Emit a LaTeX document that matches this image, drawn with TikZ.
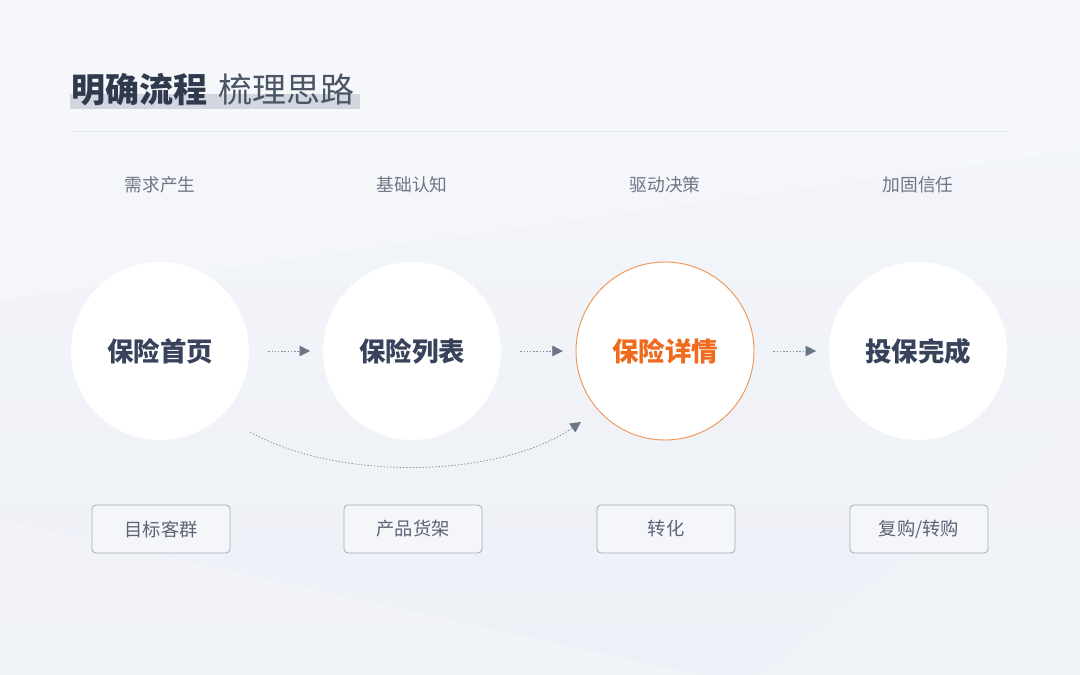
\documentclass[tikz,border=0pt]{standalone}
\usepackage{fontspec}
\setmainfont{Noto Sans CJK SC}
\usetikzlibrary{arrows.meta}
\usetikzlibrary{calc}

\definecolor{bgbase}{HTML}{EDF0F6}
\definecolor{bgtop}{HTML}{F4F6FA}
\definecolor{titledark}{HTML}{2F3A4D}
\definecolor{titlelight}{HTML}{4A5566}
\definecolor{titlebar}{HTML}{D2D7DF}
\definecolor{rulegray}{HTML}{E1E5ED}
\definecolor{stagegray}{HTML}{6E7583}
\definecolor{pagedark}{HTML}{38425A}
\definecolor{hotorange}{HTML}{EF6A1C}
\definecolor{ringorange}{HTML}{EE9A5E}
\definecolor{arrowgray}{HTML}{6A7588}
\definecolor{boxline}{HTML}{A4ACB9}
\definecolor{boxtext}{HTML}{5A6476}

\tikzset{
  stage/.style={font=\fontsize{12.6pt}{14pt}\selectfont, text=stagegray},
  pagecircle/.style={circle, fill=white, minimum size=126.6pt, inner sep=0pt,
    font=\fontsize{18.8pt}{21pt}\selectfont\bfseries, text=pagedark},
  hotcircle/.style={pagecircle, draw=ringorange, line width=0.7pt, text=hotorange},
  rolebox/.style={draw=boxline, line width=0.6pt, rounded corners=2.8pt, fill=bgbase!60!white,
    minimum width=98.1pt, minimum height=34.1pt, inner sep=0pt,
    font=\fontsize{13pt}{15pt}\selectfont, text=boxtext},
  flowarrow/.style={draw=arrowgray!80, line width=0.55pt, dash pattern=on 1pt off 1.3pt,
    -{Triangle[length=7.5pt, width=7.5pt, color=arrowgray, fill=arrowgray]}},
}

\begin{document}
\begin{tikzpicture}[x=0.025cm, y=-0.025cm]
  % Background
  \useasboundingbox (0,0) rectangle (1080,675);
  \shade[top color=bgtop, bottom color=bgbase] (0,0) rectangle (1080,675);
  \fill[white, opacity=0.25] (0,300) -- (1080,150) -- (1080,0) -- (0,0) -- cycle;
  \fill[white, opacity=0.2] (0,675) -- (0,520) -- (700,675) -- cycle;
  \fill[white, opacity=0.15] (1080,420) -- (760,675) -- (1080,675) -- cycle;

  % Title
  \fill[titlebar] (70,94) rectangle (360,109);
  \node[anchor=west, inner sep=0pt, font=\fontsize{24.2pt}{26pt}\selectfont\bfseries,
    text=titledark] (titlemain) at (71,90) {明确流程};
  \node[anchor=west, inner sep=0pt, font=\fontsize{24.2pt}{26pt}\selectfont,
    text=titlelight] (titlesub) at (218,90) {梳理思路};
  \draw[rulegray, line width=0.6pt] (72,131) -- (1008,131);

  % Stages
  \node[stage] (stage1) at (160,185) {需求产生};
  \node[stage] (stage2) at (412,185) {基础认知};
  \node[stage] (stage3) at (665,185) {驱动决策};
  \node[stage] (stage4) at (918,185) {加固信任};

  % Pages
  \node[pagecircle] (home) at (160,351) {保险首页};
  \node[pagecircle] (list) at (412,351) {保险列表};
  \node[hotcircle] (detail) at (665,351) {保险详情};
  \node[pagecircle] (done) at (918,351) {投保完成};

  % Arrows
  \draw[flowarrow, shorten <=13.5pt, shorten >=9pt] (home) -- (list);
  \draw[flowarrow, shorten <=13.5pt, shorten >=9pt] (list) -- (detail);
  \draw[flowarrow, shorten <=13.5pt, shorten >=9pt] (detail) -- (done);
  \coordinate (skipstart) at ($(home.center)+(90,81)$);
  \coordinate (skipend) at ($(detail.center)+(-84,71)$);
  \draw[flowarrow] (skipstart) .. controls (340,482) and (500,478) .. (skipend);

  % Roles
  \node[rolebox] (role1) at (161,529) {目标客群};
  \node[rolebox] (role2) at (413,529) {产品货架};
  \node[rolebox] (role3) at (666,529) {转化};
  \node[rolebox] (role4) at (919,529) {复购/转购};
\end{tikzpicture}
\end{document}
